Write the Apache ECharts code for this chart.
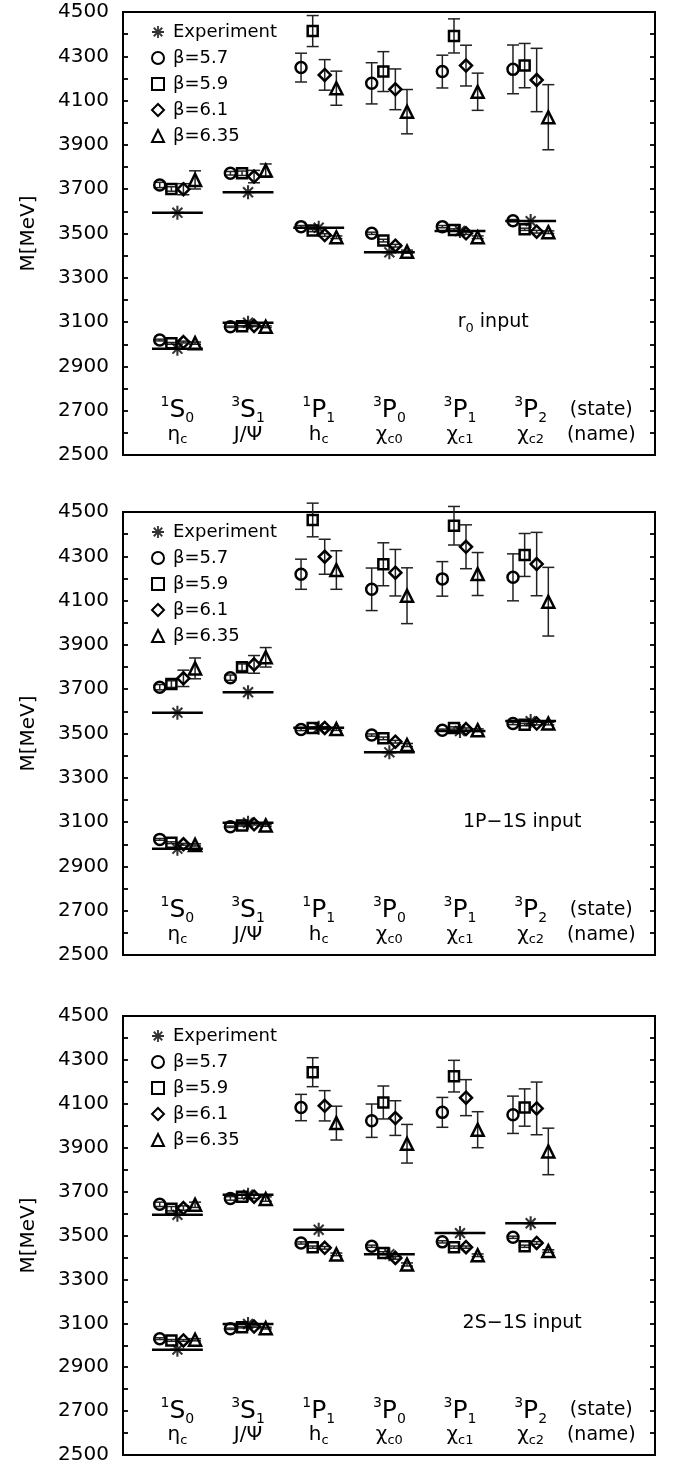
<!DOCTYPE html>
<html>
<head>
<meta charset="utf-8">
<script src="https://cdn.jsdelivr.net/npm/echarts@6/dist/echarts.min.js"></script>
<style>
html,body{margin:0;padding:0;background:#fff;}
#chart{width:673px;height:1465px;}
</style>
</head>
<body>
<div id="chart"></div>
<script>
// ---------- categories / labels ----------
const stateSup    = ['1','3','1','3','3','3'];
const stateLetter = ['S','S','P','P','P','P'];
const stateSub    = ['0','1','1','0','1','2'];
const nameMain    = ['η','J/Ψ','h','χ','χ','χ'];
const nameSub     = ['c','','c','c0','c1','c2'];
const seriesNames = ['Experiment','β=5.7','β=5.9','β=6.1','β=6.35'];
const inputLabels = ['r{sub|0} input','1P−1S input','2S−1S input'];
const yTicks = [2500, 2700, 2900, 3100, 3300, 3500, 3700, 3900, 4100, 4300, 4500];

// ---------- experiment ----------
const expGround  = [2980, 3097, 3526, 3415, 3511, 3556];
const expExcited = [3594, 3686, null, null, null, null];

// ---------- r0 input (rows: beta 5.7, 5.9, 6.1, 6.35) ----------
const r0Ground = [
  [3019, 3079, 3531, 3501, 3531, 3558],
  [3004, 3081, 3513, 3468, 3516, 3519],
  [3010, 3083, 3493, 3445, 3501, 3508],
  [3005, 3079, 3483, 3418, 3483, 3506]
];
const r0GroundErr = [
  [4, 3, 5, 5, 5, 5],
  [4, 3, 5, 6, 5, 5],
  [4, 3, 6, 6, 5, 6],
  [5, 4, 6, 7, 6, 6]
];
const r0Excited = [
  [3719, 3772, 4249, 4178, 4231, 4241],
  [3701, 3772, 4414, 4231, 4392, 4258],
  [3700, 3757, 4216, 4151, 4258, 4193],
  [3742, 3784, 4156, 4050, 4140, 4025]
];
const r0ExcitedErr = [
  [12, 8, 65, 93, 74, 110],
  [10, 10, 70, 90, 77, 100],
  [25, 28, 69, 92, 92, 143],
  [41, 30, 77, 100, 84, 147]
];

// ---------- 1P-1S input ----------
const p1sGround = [
  [3022, 3079, 3518, 3493, 3515, 3545],
  [3007, 3085, 3525, 3478, 3525, 3540],
  [3000, 3090, 3525, 3463, 3520, 3545],
  [2997, 3085, 3520, 3448, 3515, 3545]
];
const p1sGroundErr = [
  [4, 3, 5, 5, 5, 5],
  [4, 3, 5, 6, 5, 5],
  [4, 3, 6, 6, 5, 6],
  [5, 4, 6, 7, 6, 6]
];
const p1sExcited = [
  [3709, 3752, 4219, 4151, 4198, 4205],
  [3723, 3799, 4464, 4264, 4438, 4306],
  [3749, 3812, 4298, 4226, 4343, 4265],
  [3794, 3844, 4238, 4122, 4220, 4095]
];
const p1sExcitedErr = [
  [12, 12, 68, 96, 78, 106],
  [15, 15, 76, 97, 87, 97],
  [37, 40, 79, 105, 99, 143],
  [47, 44, 87, 126, 97, 155]
];

// ---------- 2S-1S input ----------
const s2sGround = [
  [3030, 3075, 3466, 3451, 3471, 3492],
  [3022, 3082, 3447, 3420, 3447, 3451],
  [3022, 3085, 3444, 3398, 3447, 3466],
  [3025, 3078, 3414, 3368, 3410, 3429]
];
const s2sGroundErr = [
  [4, 3, 5, 5, 5, 5],
  [4, 3, 5, 6, 5, 5],
  [4, 3, 6, 6, 5, 6],
  [5, 4, 6, 7, 6, 6]
];
const s2sExcited = [
  [3642, 3669, 4083, 4023, 4061, 4050],
  [3622, 3677, 4244, 4106, 4226, 4083],
  [3625, 3677, 4091, 4035, 4128, 4079],
  [3640, 3666, 4012, 3918, 3982, 3883]
];
const s2sExcitedErr = [
  [10, 8, 60, 76, 68, 85],
  [10, 8, 66, 75, 72, 85],
  [10, 8, 69, 79, 82, 120],
  [12, 10, 77, 88, 82, 106]
];

// ---------- layout / styles ----------
const FONT = 'DejaVu Sans';
const GRID_TOPS = [12, 512, 1016];
const GRID_H = 443;
const X_OFF = [-0.25, -0.085, 0.085, 0.25];
const SYMBOLS = ['circle', 'rect', 'diamond', 'triangle'];
const SIZES = [11, 10, [12, 12], 12];
const ASTERISK = 'path://M8.5 0L11.5 0L11.5 20L8.5 20Z M0 8.5L20 8.5L20 11.5L0 11.5Z M3.99 1.87L18.13 16.01L16.01 18.13L1.87 3.99Z M1.87 16.01L16.01 1.87L18.13 3.99L3.99 18.13Z';
const TAG_X = [5.47, 5.88, 5.88];

const panels = [
  {g: r0Ground,  ge: r0GroundErr,  e: r0Excited,  ee: r0ExcitedErr},
  {g: p1sGround, ge: p1sGroundErr, e: p1sExcited, ee: p1sExcitedErr},
  {g: s2sGround, ge: s2sGroundErr, e: s2sExcited, ee: s2sExcitedErr}
];

const rich = {
  sup:  {fontFamily: FONT, fontSize: 14, color: '#000', verticalAlign: 'top', lineHeight: 12},
  big:  {fontFamily: FONT, fontSize: 25, color: '#000', lineHeight: 30},
  sub:  {fontFamily: FONT, fontSize: 14, color: '#000', verticalAlign: 'bottom', lineHeight: 18},
  nm:   {fontFamily: FONT, fontSize: 20, color: '#000', lineHeight: 24},
  nsub: {fontFamily: FONT, fontSize: 13, color: '#000', verticalAlign: 'bottom', lineHeight: 14},
  txt:  {fontFamily: FONT, fontSize: 19, color: '#000', lineHeight: 26}
};
rich.sub2 = Object.assign({}, rich.sub, {fontSize: 13});

function errRender(params, api) {
  const x = api.value(0);
  const top = api.coord([x, api.value(2)]);
  const bot = api.coord([x, api.value(1)]);
  const hw = 6;
  const style = {stroke: '#222', lineWidth: 1.5};
  return {type: 'group', children: [
    {type: 'line', shape: {x1: top[0], y1: top[1], x2: bot[0], y2: bot[1]}, style: style},
    {type: 'line', shape: {x1: top[0]-hw, y1: top[1], x2: top[0]+hw, y2: top[1]}, style: style},
    {type: 'line', shape: {x1: bot[0]-hw, y1: bot[1], x2: bot[0]+hw, y2: bot[1]}, style: style}
  ]};
}
function expLineRender(params, api) {
  const x = api.value(0), y = api.value(1);
  const a = api.coord([x - 0.36, y]);
  const b = api.coord([x + 0.36, y]);
  return {type: 'line', shape: {x1: a[0], y1: a[1], x2: b[0], y2: b[1]}, style: {stroke: '#000', lineWidth: 2.5}};
}

const grids = [], xAxes = [], yAxes = [], series = [], legends = [];
const axisTickStyle = {show: true, inside: true, length: 5, lineStyle: {color: '#000', width: 1.8}};
const minorTickStyle = {show: true, splitNumber: 2, length: 5, lineStyle: {color: '#000', width: 1.8}};

panels.forEach((P, p) => {
  grids.push({left: 123, right: 18, top: GRID_TOPS[p], height: GRID_H, show: true,
              borderColor: '#000', borderWidth: 2, backgroundColor: 'transparent', containLabel: false});
  xAxes.push({type: 'value', gridIndex: p, min: 0.23, max: 7.76, show: false});
  yAxes.push({type: 'value', gridIndex: p, position: 'left', min: yTicks[0], max: yTicks[yTicks.length-1],
              interval: yTicks[1]-yTicks[0],
              axisLine: {show: false}, splitLine: {show: false},
              axisTick: axisTickStyle, minorTick: minorTickStyle,
              axisLabel: {color: '#000', fontFamily: FONT, fontSize: 20, margin: 14, formatter: v => String(v)},
              name: 'M[MeV]', nameLocation: 'middle', nameGap: 84,
              nameTextStyle: {color: '#000', fontFamily: FONT, fontSize: 20}});
  yAxes.push({type: 'value', gridIndex: p, position: 'right', min: yTicks[0], max: yTicks[yTicks.length-1],
              interval: yTicks[1]-yTicks[0],
              axisLine: {show: false}, splitLine: {show: false},
              axisTick: axisTickStyle, minorTick: minorTickStyle,
              axisLabel: {show: false}});
  const yi = p * 2;

  for (let b = 0; b < 4; b++) {
    const pts = [], errs = [];
    for (let i = 0; i < 6; i++) {
      const x = i + 1 + X_OFF[b];
      pts.push([x, P.g[b][i]]);
      pts.push([x, P.e[b][i]]);
      errs.push([x, P.g[b][i] - P.ge[b][i], P.g[b][i] + P.ge[b][i]]);
      errs.push([x, P.e[b][i] - P.ee[b][i], P.e[b][i] + P.ee[b][i]]);
    }
    series.push({type: 'custom', xAxisIndex: p, yAxisIndex: yi, renderItem: errRender,
                 data: errs, z: 2, silent: true});
    series.push({type: 'scatter', name: seriesNames[b+1], xAxisIndex: p, yAxisIndex: yi,
                 symbol: SYMBOLS[b], symbolSize: SIZES[b], z: 3,
                 itemStyle: {color: 'rgba(255,255,255,0)', borderColor: '#000', borderWidth: 2.5, opacity: 1},
                 data: pts});
  }
  const expPts = [];
  for (let i = 0; i < 6; i++) {
    expPts.push([i + 1, expGround[i]]);
    if (expExcited[i] != null) expPts.push([i + 1, expExcited[i]]);
  }
  series.push({type: 'custom', xAxisIndex: p, yAxisIndex: yi, renderItem: expLineRender,
               data: expPts, z: 2, silent: true});
  series.push({type: 'scatter', name: seriesNames[0], xAxisIndex: p, yAxisIndex: yi,
               symbol: ASTERISK, symbolSize: 14, z: 4, itemStyle: {color: '#000'}, data: expPts});

  const labels = [];
  for (let i = 0; i < 6; i++) {
    labels.push({value: [i + 1, 2700], label: {formatter: '{sup|' + stateSup[i] + '}{big|' + stateLetter[i] + '}{sub|' + stateSub[i] + '}'}});
    const nm = '{nm|' + nameMain[i] + '}' + (nameSub[i] ? '{nsub|' + nameSub[i] + '}' : '');
    labels.push({value: [i + 1, 2592], label: {formatter: nm}});
  }
  labels.push({value: [7, 2705], label: {formatter: '{txt|(state)}'}});
  labels.push({value: [7, 2592], label: {formatter: '{txt|(name)}'}});
  labels.push({value: [TAG_X[p], 3100], label: {formatter: '{txt|' + inputLabels[p].replace('{sub|0}', '}{sub2|0}{txt|') + '}'}});
  series.push({type: 'scatter', xAxisIndex: p, yAxisIndex: yi, symbolSize: 1, silent: true, z: 5,
               itemStyle: {color: 'rgba(0,0,0,0)'},
               label: {show: true, position: 'inside', align: 'center', verticalAlign: 'middle',
                       color: '#000', textBorderWidth: 0, opacity: 1, rich: rich},
               data: labels});

  legends.push({orient: 'vertical', left: 146, top: GRID_TOPS[p] + 6, itemWidth: 12, itemHeight: 12,
                itemGap: 8, selectedMode: false, data: seriesNames,
                textStyle: {color: '#000', fontFamily: FONT, fontSize: 18, padding: [0, 0, 0, 4]}});
});

const chart = echarts.init(document.getElementById('chart'), null, {renderer: 'canvas'});
chart.setOption({
  animation: false,
  backgroundColor: '#fff',
  textStyle: {fontFamily: FONT},
  grid: grids, xAxis: xAxes, yAxis: yAxes, legend: legends, series: series
});
</script>
</body>
</html>
